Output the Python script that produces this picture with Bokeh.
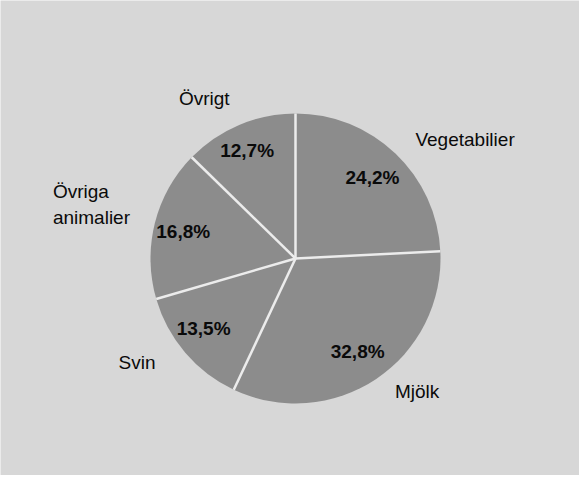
import numpy as np
from bokeh.plotting import figure
from bokeh.models import Range1d
from bokeh.core.properties import value
from bokeh.embed import file_html
from bokeh.resources import INLINE

# ---- data ----
categories = ["Vegetabilier", "Mjölk", "Svin", "Övriga\nanimalier", "Övrigt"]
shares = [24.2, 32.8, 13.5, 16.8, 12.7]
pct_labels = ["24,2%", "32,8%", "13,5%", "16,8%", "12,7%"]

# ---- layout (not data) ----
W, H = 579, 475
R = 145
label_align = ["left", "left", "right", "left", "right"]
label_xoff = [3, 5, -11, -78, 0]
label_yoff = [4, -8, -6, -13, -4]
pct_xoff = [0, 0, -7, -4, -5]
pct_yoff = [0, 0, -3, 0, -5]

vals = np.array(shares, dtype=float)
frac = vals / vals.sum()
ang = frac * 2 * np.pi
start = np.pi / 2 - np.concatenate([[0], np.cumsum(ang)[:-1]])
end = start - ang
mid = (start + end) / 2

p = figure(width=W, height=H, output_backend="svg", toolbar_location=None,
           x_range=Range1d(-295, 284), y_range=Range1d(-217, 258),
           min_border=0)
p.axis.visible = False
p.grid.visible = False
p.outline_line_color = None
bg = "#d7d7d7"
p.background_fill_color = bg
p.border_fill_color = bg

p.wedge(x=0, y=0, radius=R, start_angle=list(end), end_angle=list(start),
        direction="anticlock", fill_color="#8c8c8c", line_color=None)

# separators
p.segment(x0=[0] * len(start), y0=[0] * len(start),
          x1=list(R * np.cos(start)), y1=list(R * np.sin(start)),
          line_color="#ececec", line_width=2.5)

font = value("Liberation Sans")

# percentage labels
rin = 0.77 * R
for i, t in enumerate(pct_labels):
    p.text(x=[rin * np.cos(mid[i])], y=[rin * np.sin(mid[i])], text=[t],
           x_offset=pct_xoff[i], y_offset=pct_yoff[i],
           text_font=font, text_font_style="bold",
           text_font_size="19px", text_align="center", text_baseline="middle",
           text_color="#0a0a0a")

# category labels
rout = 1.17 * R
for i, c in enumerate(categories):
    p.text(x=[rout * np.cos(mid[i])], y=[rout * np.sin(mid[i])], text=[c],
           x_offset=label_xoff[i], y_offset=label_yoff[i],
           text_font=font, text_font_size="19px",
           text_align=label_align[i], text_baseline="middle",
           text_color="#0a0a0a", text_line_height=1.26)

open("out.html", "w").write(file_html(p, INLINE))
